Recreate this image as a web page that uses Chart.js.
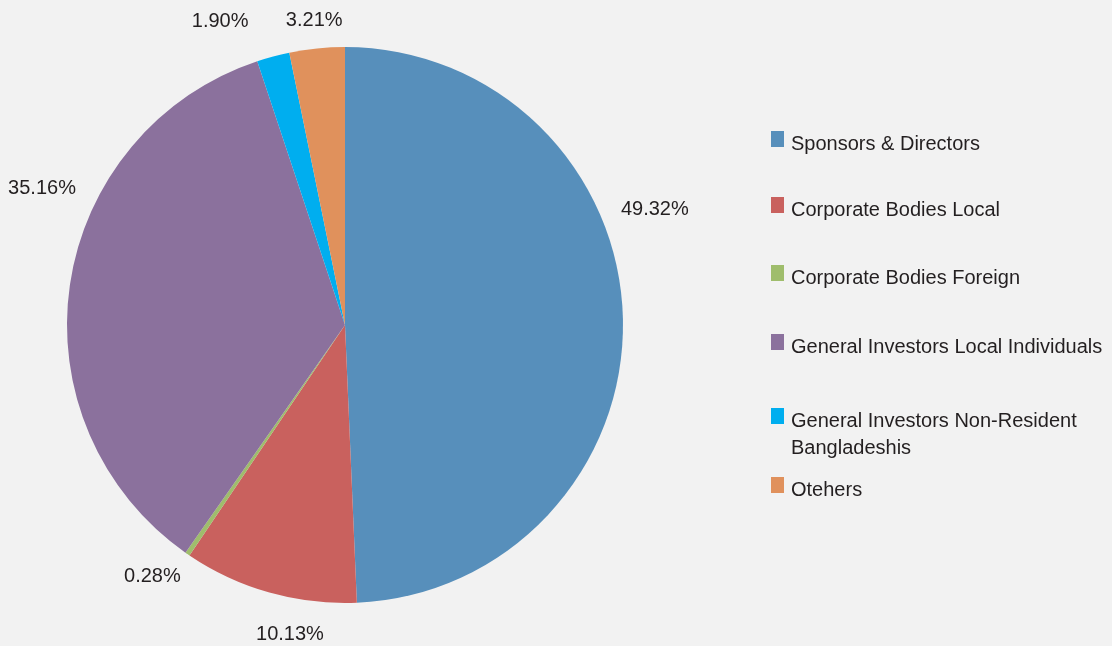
<!DOCTYPE html>
<html>
<head>
<meta charset="utf-8">
<script src="https://cdn.jsdelivr.net/npm/chart.js@4.4.0/dist/chart.umd.min.js"></script>
<style>
    html, body { margin: 0; padding: 0; background: #f2f2f2; }
    #wrap { position: relative; width: 1112px; height: 646px; }
    #share-chart { position: absolute; left: 0; top: 0; }
    .legend-item { position: absolute; left: 771px; width: 340px; font-family: "Liberation Sans", Arial, sans-serif;
        font-size: 20px; line-height: 27px; color: #231f20; }
    .legend-box { position: absolute; left: 0; top: 1px; width: 13px; height: 16px; }
    .legend-text { margin-left: 20px; }
</style>
</head>
<body>
<div id="wrap">
    <canvas id="share-chart" width="1112" height="646"></canvas>
    <div id="legend"></div>
</div>
<script>
const categories = [
    'Sponsors & Directors',
    'Corporate Bodies Local',
    'Corporate Bodies Foreign',
    'General Investors Local Individuals',
    'General Investors Non-Resident Bangladeshis',
    'Otehers'
]
const shares = [49.32, 10.13, 0.28, 35.16, 1.90, 3.21]
const sliceColors = ['#578fbb', '#c9615e', '#9fbd6c', '#8b719d', '#00aeef', '#e0915c']

// label placement tweaks (degrees off mid-angle, distance as radius factor)
const labelAngleOffset = [-19.3, -5.7, 2.9, 15.9, -7.4, 0]
const labelDistance = [1.19, 1.13, 1.14, 1.195, 1.18, 1.10]
const legendTops = [130, 196, 264, 333, 407, 476]

const pctLabels = {
    id: 'pctLabels',
    afterDatasetsDraw(chart) {
        const ctx = chart.ctx
        const meta = chart.getDatasetMeta(0)
        ctx.save()
        ctx.font = '20px "Liberation Sans", Arial, sans-serif'
        ctx.fillStyle = '#231f20'
        ctx.textAlign = 'center'
        ctx.textBaseline = 'middle'
        meta.data.forEach((arc, i) => {
            const mid = (arc.startAngle + arc.endAngle) / 2 + labelAngleOffset[i] * Math.PI / 180
            const d = arc.outerRadius * labelDistance[i]
            const x = arc.x + Math.cos(mid) * d
            const y = arc.y + Math.sin(mid) * d
            ctx.fillText(shares[i].toFixed(2) + '%', x, y)
        })
        ctx.restore()
    }
}

const ctx = document.getElementById('share-chart')
const myChart = new Chart(ctx, {
    type: 'pie',
    data: {
        labels: categories,
        datasets: [{
            data: shares,
            backgroundColor: sliceColors,
            borderWidth: 0
        }]
    },
    options: {
        responsive: false,
        animation: false,
        layout: {
            padding: { left: 67, right: 489, top: 47, bottom: 43 }
        },
        plugins: {
            legend: { display: false },
            tooltip: { enabled: false }
        }
    },
    plugins: [pctLabels]
})

// html legend so the long label can wrap
const legendEl = document.getElementById('legend')
categories.forEach((name, i) => {
    const item = document.createElement('div')
    item.className = 'legend-item'
    item.style.top = legendTops[i] + 'px'
    const box = document.createElement('span')
    box.className = 'legend-box'
    box.style.background = sliceColors[i]
    const text = document.createElement('div')
    text.className = 'legend-text'
    text.innerHTML = name === 'General Investors Non-Resident Bangladeshis'
        ? 'General Investors Non-Resident<br>Bangladeshis' : name
    item.appendChild(box)
    item.appendChild(text)
    legendEl.appendChild(item)
})
</script>
</body>
</html>
